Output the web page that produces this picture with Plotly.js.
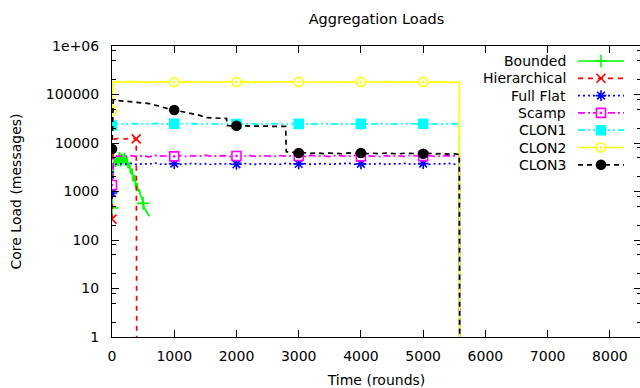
<!DOCTYPE html>
<html><head><meta charset="utf-8">
<script src="https://cdn.plot.ly/plotly-3.0.1.min.js"></script>
<style>html,body{margin:0;padding:0;overflow:hidden;background:#fff}#chart{width:641px;height:388px}</style>
</head><body><div id="chart"></div>
<script>
// ---------- data ----------
const seriesNames = ['Bounded','Hierarchical','Full Flat','Scamp','CLON1','CLON2','CLON3'];

const xTickVals = [0,1000,2000,3000,4000,5000,6000,7000,8000];
const yTickVals = [1,10,100,1000,10000,100000,1000000];
const yTickText = ['1','10','100','1000','10000','100000','1e+06'];

// Bounded
const boundedT = [0,20,40,60,80,100,120,140,160,180,
                  200,220,240,260,280,300,320,340,360,380,
                  400,420,440,460,480,500,520,540,560,580,600];
const boundedLoad = [460,2800,5200,3200,5600,3400,6500,3300,6000,3600,
                     6300,3400,5200,3000,4000,2300,3000,1600,2200,1200,
                     1500,1000,1100,800,750,570,450,420,360,340,310];
const boundedMarkT = [0,500];

// Hierarchical
const hierT = [0,20,100,200,300,390,400];
const hierLoad = [270,12000,12300,12100,12400,12200,0.01];
const hierMarkT = [0,390];

// shared time axis for the long-running series
const longT = [0,20,100,200,300,400,500,600,700,800,
               900,1000,1100,1200,1300,1400,1500,1600,1700,1800,
               1900,2000,2100,2200,2300,2400,2500,2600,2700,2800,
               2900,3000,3100,3200,3300,3400,3500,3600,3700,3800,
               3900,4000,4100,4200,4300,4400,4500,4600,4700,4800,
               4900,5000,5100,5200,5300,5400,5500,5580,5590];

const fullFlatLoad = [930,3500,3750,3650,3800,3600,3720,3680,3850,3620,
                      3700,3760,3640,3710,3800,3660,3740,3600,3780,3690,
                      3720,3650,3810,3700,3630,3760,3690,3720,3640,3800,
                      3670,3710,3750,3620,3700,3780,3650,3730,3690,3810,
                      3640,3720,3700,3660,3780,3630,3740,3690,3800,3650,
                      3710,3760,3620,3730,3690,3800,3650,3720,0.01];

const scampLoad = [1360,5100,5400,5250,5500,5300,5450,5200,5550,5350,
                   5400,5300,5500,5250,5450,5350,5600,5300,5400,5500,
                   5250,5400,5350,5550,5300,5450,5400,5250,5500,5350,
                   5450,5400,5300,5550,5350,5450,5250,5500,5400,5350,
                   5550,5300,5450,5400,5250,5500,5350,5450,5300,5550,
                   5400,5350,5500,5250,5450,5400,5300,5450,0.01];

const clon1Load = [23000,24500,25000,24300,25200,24700,24900,24400,25300,24600,
                   24800,25000,24500,24900,25100,24400,24700,25200,24600,24800,
                   25000,24700,24500,25100,24800,24400,25200,24700,24900,24500,
                   25100,24800,24600,25000,24700,25300,24500,24900,24800,25100,
                   24600,24800,25000,24500,25200,24700,24900,24400,25100,24800,
                   24700,25000,24600,24900,24500,25100,24800,24700,0.01];

const clon2Load = [45700,178000,182000,179000,184000,180000,181000,177000,183000,180000,
                   182000,181000,178000,184000,180000,179000,183000,181000,177000,182000,
                   180000,181000,184000,178000,182000,180000,179000,183000,181000,178000,
                   182000,181000,180000,184000,178000,181000,183000,179000,182000,180000,
                   178000,181000,183000,180000,179000,184000,181000,178000,182000,180000,
                   183000,181000,179000,182000,180000,184000,178000,181000,0.01];

const clon3T = [0,20,100,200,300,400,500,600,700,800,
                900,1000,1100,1200,1300,1400,1500,1600,1700,1800,
                1840,1850,1900,2000,2100,2200,2300,2400,2500,2600,
                2700,2790,2800,2900,3000,3100,3200,3300,3400,3500,
                3600,3700,3800,3900,4000,4100,4200,4300,4400,4500,
                4600,4700,4800,4900,5000,5100,5200,5300,5400,5500,
                5580,5590];
const clon3Load = [7500,76000,75000,73000,71000,69000,67000,65000,60000,55000,
                   51000,48000,45000,42500,40000,37500,33500,33000,32500,32300,
                   32000,23000,22500,22700,22300,22600,22200,22400,22000,22300,
                   21900,22100,6600,6400,6200,6300,6100,6250,6050,6200,
                   6150,6000,6250,6100,6200,6050,6150,6000,6200,6100,
                   5950,6150,6050,6100,6000,6150,5950,6050,5900,6000,
                   5800,0.01];

const longMarkT = [0,1000,2000,3000,4000,5000];

// ---------- styles ----------
const styles = [
  {color:'#00ff00', dash:'solid',   symbol:'cross-thin-open', fill:'#00ff00'},
  {color:'#ff0000', dash:'5px,5px', symbol:'x-thin-open',     fill:'#ff0000'},
  {color:'#0000ff', dash:'2px,3px', symbol:'asterisk-open',   fill:'#0000ff'},
  {color:'#ff00ff', dash:'7px,3px,2px,3px', symbol:'square-dot', fill:'#ffffff'},
  {color:'#00ffff', dash:'7px,3px,2px,3px,2px,3px', symbol:'square', fill:'#00ffff'},
  {color:'#ffff00', dash:'solid',   symbol:'circle-dot', fill:'#ffffff'},
  {color:'#000000', dash:'5px,4px', symbol:'circle', fill:'#000000'}
];

const series = [
  {t:boundedT, y:boundedLoad,  m:boundedMarkT},
  {t:hierT,    y:hierLoad,     m:hierMarkT},
  {t:longT,    y:fullFlatLoad, m:longMarkT},
  {t:longT,    y:scampLoad,    m:longMarkT},
  {t:longT,    y:clon1Load,    m:longMarkT},
  {t:longT,    y:clon2Load,    m:longMarkT},
  {t:clon3T,   y:clon3Load,    m:longMarkT}
];

const traces = [];
series.forEach((s,i)=>{
  const st = styles[i];
  traces.push({x:s.t, y:s.y, mode:'lines', type:'scatter', hoverinfo:'skip',
    line:{color:st.color, width:1.7, dash:st.dash}, showlegend:false});
  const mx=[], my=[];
  s.t.forEach((t,k)=>{ if (s.m.indexOf(t)>=0){ mx.push(t); my.push(s.y[k]); } });
  traces.push({x:mx, y:my, mode:'markers', type:'scatter', hoverinfo:'skip', showlegend:false,
    marker:{symbol:st.symbol, size:9, color:st.fill, line:{color:st.color, width:1.6}}});
});

// ---------- gnuplot-style key (pixel-space overlay axes) ----------
const keyTop = 61, keyStep = 17.3;
const annotations = [];
seriesNames.forEach((name,i)=>{
  const st = styles[i];
  const ry = keyTop + i*keyStep;
  traces.push({x:[578,624], y:[ry,ry], xaxis:'x2', yaxis:'y2', mode:'lines', hoverinfo:'skip', showlegend:false,
    line:{color:st.color, width:1.7, dash:st.dash}});
  traces.push({x:[601], y:[ry], xaxis:'x2', yaxis:'y2', mode:'markers', hoverinfo:'skip', showlegend:false,
    marker:{symbol:st.symbol, size:9, color:st.fill, line:{color:st.color, width:1.6}}});
  annotations.push({text:name, x:568, y:ry, xref:'x2', yref:'y2', xanchor:'right', yanchor:'middle',
    showarrow:false, font:{size:14, color:'#000'}});
});

const minorVals = [];
[1,10,100,1000,10000,100000].forEach(d=>{ [2,5,8].forEach(m=>minorVals.push(d*m)); });

const layout = {
  width:641, height:388,
  margin:{l:112, r:0, t:46, b:51, pad:0},
  paper_bgcolor:'#ffffff', plot_bgcolor:'#ffffff',
  showlegend:false,
  font:{family:'DejaVu Sans, sans-serif', size:14, color:'#000'},
  title:{text:'Aggregation Loads', x:0.5, xref:'paper', xanchor:'center', y:1-19/388, yref:'container', yanchor:'middle',
         font:{size:14.5, color:'#000'}},
  xaxis:{range:[0,8500], tickmode:'array', tickvals:xTickVals, ticks:'inside', ticklen:7, tickcolor:'#000', tickwidth:1,
         showline:true, linecolor:'#000', linewidth:1, mirror:'allticks', showgrid:false, zeroline:false,
         ticklabelstandoff:6, tickfont:{size:14},
         title:{text:'Time (rounds)', standoff:12, font:{size:14}}},
  yaxis:{type:'log', range:[0,6], tickmode:'array', tickvals:yTickVals, ticktext:yTickText, ticks:'inside', ticklen:7,
         tickcolor:'#000', tickwidth:1, showline:true, linecolor:'#000', linewidth:1, mirror:'allticks',
         showgrid:false, zeroline:false, ticklabelstandoff:9, tickfont:{size:14},
         minor:{tickmode:'array', tickvals:minorVals, ticks:'inside', ticklen:4, tickcolor:'#000', showgrid:false},
         title:{text:'Core Load (messages)', standoff:20, font:{size:14}}},
  xaxis2:{overlaying:'x', anchor:'y2', range:[112,641], visible:false, fixedrange:true},
  yaxis2:{overlaying:'y', anchor:'x2', range:[337,46], visible:false, fixedrange:true},
  annotations:annotations
};

Plotly.newPlot('chart', traces, layout, {staticPlot:true, displayModeBar:false});
</script></body></html>
